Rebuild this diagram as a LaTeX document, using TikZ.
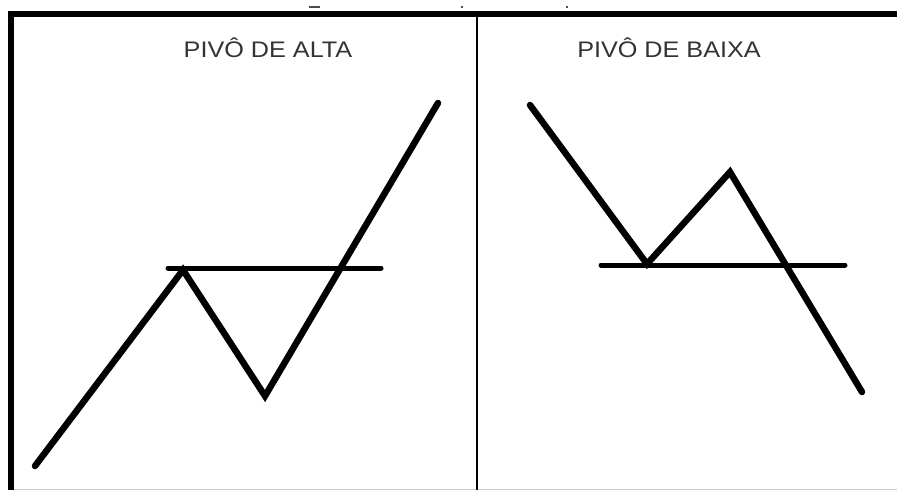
\documentclass[tikz,border=0pt]{standalone}
\usepackage{fontspec}
\setmainfont{Liberation Sans}
\begin{document}
\begin{tikzpicture}[x=1pt,y=-1pt,
  frame/.style={line width=6pt,black},
  divider/.style={line width=1.5pt,black},
  chart/.style={line width=6.5pt,black,line cap=round,line join=miter},
  level/.style={line width=5pt,black,line cap=round},
  title/.style={text=black!80,font=\fontsize{22.5}{24}\selectfont,inner sep=0pt,xscale=1.12}]
\useasboundingbox (0,0) rectangle (897,490);
\fill[white] (0,0) rectangle (897,490);
% small artifacts above the frame
\draw[black!70,line width=2pt] (309,7) -- (320,7);
\draw[black!70,line width=2pt] (461,7) -- (463,7);
\draw[black!70,line width=2pt] (566,7) -- (568,7);
% frame
\draw[black!20,line width=1pt] (13,489) -- (897,489);
\draw[frame] (10.5,490) -- (10.5,14) -- (897,14);
\draw[divider] (477,14) -- (477,490);
% titles
\node[title] (tl) at (268,48) {PIVÔ DE ALTA};
\node[title] (tr) at (669,48) {PIVÔ DE BAIXA};
% left chart
\coordinate (a1) at (35,466);
\coordinate (a2) at (183,270);
\coordinate (a3) at (265,396);
\coordinate (a4) at (438,103);
\coordinate (h1) at (168,268);
\coordinate (h2) at (381,268);
\draw[level] (h1) -- (h2);
\draw[chart] (a1) -- (a2) -- (a3) -- (a4);
% right chart
\coordinate (b1) at (530,105);
\coordinate (b2) at (647,264);
\coordinate (b3) at (730,172);
\coordinate (b4) at (862,392);
\coordinate (k1) at (601,265);
\coordinate (k2) at (845,265);
\draw[level] (k1) -- (k2);
\draw[chart] (b1) -- (b2) -- (b3) -- (b4);
\end{tikzpicture}
\end{document}
